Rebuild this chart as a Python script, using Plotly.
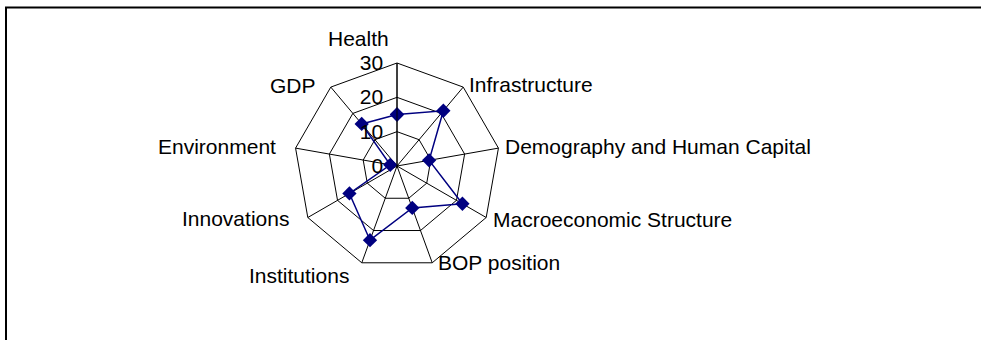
import plotly.graph_objects as go

categories = ["Health", "Infrastructure", "Demography and Human Capital",
              "Macroeconomic Structure", "BOP position", "Institutions",
              "Innovations", "Environment", "GDP"]
scores = [15, 21, 9.5, 22, 13, 23, 16, 2, 16]
tick_vals = [0, 10, 20, 30]

# where the category labels sit (pixels from top-left) and how they anchor
label_pos = [(358, 38.5, "center"), (467, 84.5, "left"), (503, 146, "left"),
             (491, 219.5, "left"), (436, 262.5, "left"), (351, 275, "right"),
             (291, 218.5, "right"), (278, 146.5, "right"), (318, 85, "right")]

W, H = 981, 340
cx, cy, rad = 397, 166, 103

# close the polygon
r = scores + scores[:1]
theta = categories + categories[:1]

fig = go.Figure()
fig.add_trace(go.Scatterpolar(
    r=r, theta=theta, mode="lines+markers",
    line=dict(color="#000080", width=1.5),
    marker=dict(symbol="diamond", size=11, color="#000080"),
    showlegend=False))

annotations = []
for name, (px, py, anchor) in zip(categories, label_pos):
    annotations.append(dict(text=name, x=px / W, y=1 - py / H,
                            xref="paper", yref="paper", showarrow=False,
                            xanchor=anchor, yanchor="middle",
                            font=dict(size=21, color="black")))

fig.update_layout(
    width=W, height=H,
    margin=dict(l=0, r=0, t=0, b=0),
    paper_bgcolor="white",
    font=dict(family="Liberation Sans, Arial", size=21, color="black"),
    polar=dict(
        domain=dict(x=[(cx - rad) / W, (cx + rad) / W],
                    y=[1 - (cy + rad) / H, 1 - (cy - rad) / H]),
        gridshape="linear",
        bgcolor="white",
        angularaxis=dict(direction="clockwise", rotation=90,
                         showline=True, linecolor="black", linewidth=1,
                         showgrid=True, gridcolor="black", gridwidth=1,
                         ticks="", showticklabels=False),
        radialaxis=dict(range=[0, 30], tickvals=tick_vals, angle=90,
                        side="counterclockwise", tickangle=90,
                        showline=True, linecolor="black", linewidth=1,
                        showgrid=True, gridcolor="black", gridwidth=1,
                        ticks="outside", ticklen=6, tickcolor="rgba(0,0,0,0)",
                        tickfont=dict(size=21)),
    ),
    annotations=annotations,
    shapes=[dict(type="rect", xref="paper", yref="paper",
                 x0=6 / W, x1=1.05, y0=-0.05, y1=1 - 7.5 / H,
                 line=dict(color="black", width=2))],
)

fig.write_html("out.html", config={"displayModeBar": False},
               post_script="document.body.style.margin='0px';")
